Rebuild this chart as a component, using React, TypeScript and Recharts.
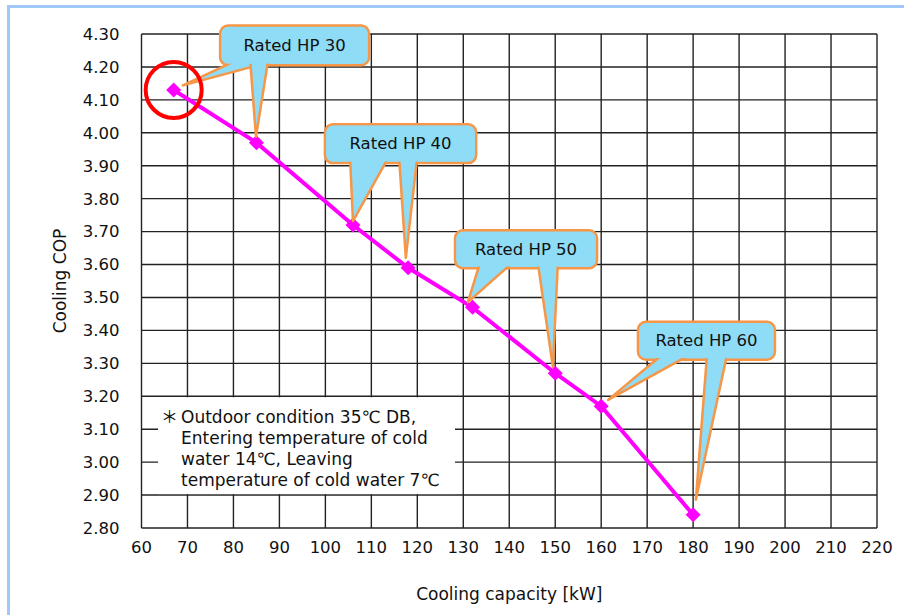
import React from 'react';
import {
  LineChart,
  Line,
  XAxis,
  YAxis,
  CartesianGrid,
  ReferenceArea,
  ReferenceDot
} from 'recharts';

const capacityKW = [67, 85, 106, 118, 132, 150, 160, 180];
const coolingCOP = [4.13, 3.97, 3.72, 3.59, 3.47, 3.27, 3.17, 2.84];
const xTicks = [60, 70, 80, 90, 100, 110, 120, 130, 140, 150, 160, 170, 180, 190, 200, 210, 220];
const yTicks = [2.8, 2.9, 3.0, 3.1, 3.2, 3.3, 3.4, 3.5, 3.6, 3.7, 3.8, 3.9, 4.0, 4.1, 4.2, 4.3];
const calloutLabels = ['Rated HP 30', 'Rated HP 40', 'Rated HP 50', 'Rated HP 60'];
const noteLines = [
  'Outdoor condition 35℃ DB,',
  'Entering temperature of cold',
  'water 14℃, Leaving',
  'temperature of cold water 7℃'
];

const data = capacityKW.map((capacity, i) => ({ capacity, cop: coolingCOP[i] }));

const FONT = '"DejaVu Sans", "Noto Sans", sans-serif';
const BUBBLE_FILL = '#8fdcf6';
const BUBBLE_STROKE = '#f79646';

// callout boxes and their two pointers, in chart units (w = pointer base width in px)
const callouts = [
  {
    box: [77.1, 109.5, 4.205, 4.326],
    tails: [
      { base: 85.0, tip: [69.0, 4.144], w: 40 },
      { base: 85.6, tip: [84.9, 3.988], w: 18 }
    ]
  },
  {
    box: [99.9, 132.8, 3.908, 4.026],
    tails: [
      { base: 109.5, tip: [106.0, 3.732], w: 38 },
      { base: 118.0, tip: [117.5, 3.62], w: 18 }
    ]
  },
  {
    box: [128.2, 159.1, 3.589, 3.704],
    tails: [
      { base: 137.1, tip: [131.0, 3.486], w: 32 },
      { base: 148.4, tip: [149.5, 3.289], w: 20 }
    ]
  },
  {
    box: [168.0, 197.8, 3.311, 3.426],
    tails: [
      { base: 176.3, tip: [161.5, 3.189], w: 28 },
      { base: 185.2, tip: [180.6, 2.886], w: 20 }
    ]
  }
];

const renderDiamond = (props: any) => {
  const { cx, cy, index } = props;
  if (cx == null || cy == null) return <g key={`d-${index}`} />;
  const s = 7.5;
  return (
    <polygon
      key={`d-${index}`}
      points={`${cx},${cy - s} ${cx + s},${cy} ${cx},${cy + s} ${cx - s},${cy}`}
      fill="#ff00ff"
    />
  );
};

const makeCallout = (c: typeof callouts[number], label: string) => (props: any) => {
  const { x, y, width, height } = props;
  const [bx1, bx2, by1, by2] = c.box;
  const kx = width / (bx2 - bx1);
  const ky = height / (by2 - by1);
  const toX = (v: number) => x + (v - bx1) * kx;
  const toY = (v: number) => y + (by2 - v) * ky;
  const bottom = y + height;
  return (
    <g>
      <rect x={x} y={y} width={width} height={height} rx={8} fill={BUBBLE_FILL} stroke={BUBBLE_STROKE} strokeWidth={2.5} />
      {c.tails.map((t, i) => {
        const mx = toX(t.base);
        const tx = toX(t.tip[0]);
        const ty = toY(t.tip[1]);
        const hw = t.w / 2;
        return (
          <polygon
            key={i}
            points={`${mx - hw},${bottom - 5} ${mx + hw},${bottom - 5} ${tx},${ty}`}
            fill={BUBBLE_FILL}
            stroke={BUBBLE_STROKE}
            strokeWidth={2.5}
            strokeLinejoin="round"
          />
        );
      })}
      <rect x={x + 1.6} y={y + 1.6} width={width - 3.2} height={height - 3.2} rx={7} fill={BUBBLE_FILL} />
      <text
        x={x + width / 2}
        y={y + height / 2}
        textAnchor="middle"
        dominantBaseline="central"
        fontSize={16.5}
        fontFamily={FONT}
        fill="#111"
      >
        {label}
      </text>
    </g>
  );
};

const renderNote = (props: any) => {
  const { x, y, width, height } = props;
  return (
    <g>
      <rect x={x} y={y} width={width} height={height} fill="#fff" />
      <text x={x + 3} y={y + 25.3} fontSize={17} fontFamily='"Noto Sans CJK JP", sans-serif' fill="#111">＊</text>
      {noteLines.map((line, i) => (
        <text key={i} x={x + 23} y={y + 25.3 + i * 21.1} fontSize={17} fontFamily={FONT} fill="#111">
          {line}
        </text>
      ))}
    </g>
  );
};

export default function App() {
  return (
    <div style={{ position: 'relative', width: 904, height: 615, background: '#fff', fontFamily: FONT }}>
      <style>{'body{margin:0;}'}</style>
      <div
        style={{
          position: 'absolute',
          left: 7,
          top: 5,
          width: 897,
          height: 610,
          borderTop: '3px solid #a0c8f8',
          borderLeft: '3px solid #a0c8f8',
          boxSizing: 'border-box'
        }}
      />
      <LineChart
        width={904}
        height={615}
        data={data}
        margin={{ top: 34, right: 27, bottom: 0, left: 0 }}
        style={{ position: 'absolute', left: 0, top: 0 }}
      >
        <CartesianGrid stroke="#222" strokeWidth={1.4} horizontalValues={yTicks} verticalValues={xTicks} />
        <XAxis
          type="number"
          dataKey="capacity"
          domain={[60, 220]}
          ticks={xTicks}
          interval={0}
          axisLine={false}
          tickLine={false}
          tickSize={0}
          tickMargin={13}
          height={87}
          tick={{ fill: '#111', fontSize: 16.5, fontFamily: FONT }}
          label={{ value: 'Cooling capacity [kW]', position: 'insideBottom', offset: 15, fill: '#111', fontSize: 17, fontFamily: FONT }}
        />
        <YAxis
          type="number"
          domain={[2.8, 4.3]}
          ticks={yTicks}
          interval={0}
          axisLine={false}
          tickLine={false}
          tickSize={0}
          tickMargin={22}
          width={141.5}
          tickFormatter={(v: number) => v.toFixed(2)}
          tick={{ fill: '#111', fontSize: 16.5, fontFamily: FONT }}
        />
        <ReferenceArea
          x1={63.6}
          x2={128.2}
          y1={2.903}
          y2={3.197}
          ifOverflow="visible"
          shape={renderNote}
        />
        <Line
          type="linear"
          dataKey="cop"
          stroke="#ff00ff"
          strokeWidth={4}
          dot={renderDiamond}
          activeDot={false}
          isAnimationActive={false}
        />
        {callouts.map((c, i) => (
          <ReferenceArea
            key={`callout-${i}`}
            x1={c.box[0]}
            x2={c.box[1]}
            y1={c.box[2]}
            y2={c.box[3]}
            ifOverflow="visible"
            zIndex={700}
            shape={makeCallout(c, calloutLabels[i])}
          />
        ))}
        <ReferenceDot
          x={capacityKW[0]}
          y={coolingCOP[0]}
          r={28}
          fill="none"
          stroke="#ff0000"
          strokeWidth={4}
          ifOverflow="visible"
          zIndex={800}
        />
      </LineChart>
      <div
        style={{
          position: 'absolute',
          left: 60,
          top: 281,
          transform: 'translate(-50%, -50%) rotate(-90deg)',
          fontSize: 17,
          color: '#111',
          whiteSpace: 'nowrap'
        }}
      >
        Cooling COP
      </div>
    </div>
  );
}
